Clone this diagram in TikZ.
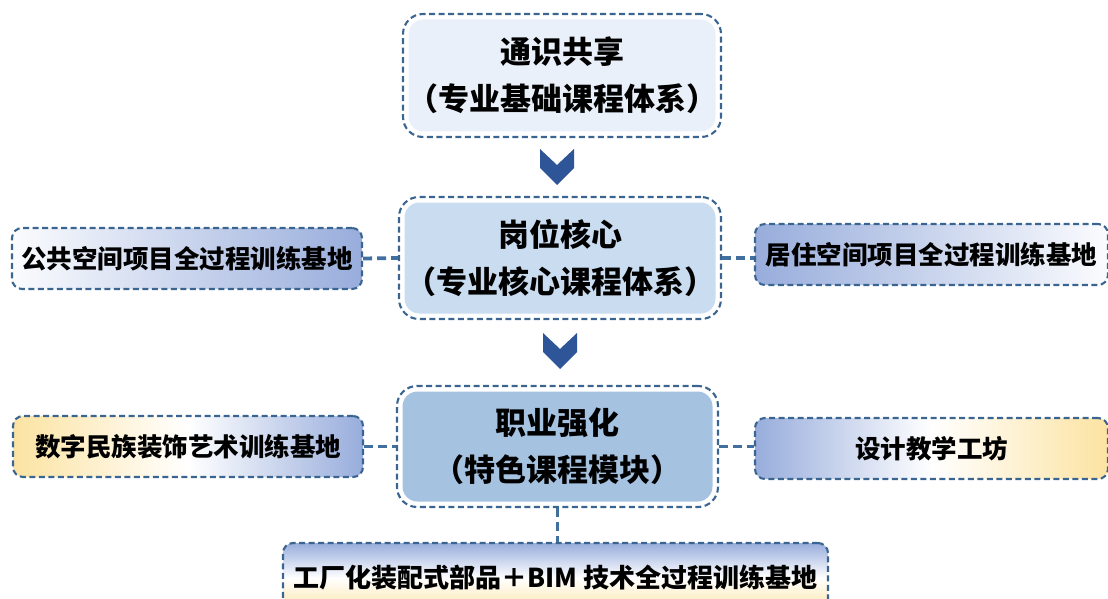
\documentclass[tikz,border=0pt]{standalone}
\usepackage{fontspec}
\setmainfont{Noto Sans CJK SC}
\usetikzlibrary{calc}
\definecolor{dashc}{HTML}{3B6591}
\definecolor{connc}{HTML}{41709E}
\definecolor{chevc}{HTML}{2E5597}
\definecolor{fillA}{HTML}{EAF0FA}
\definecolor{fillB}{HTML}{C9DCF0}
\definecolor{fillC}{HTML}{A5C2E1}
\definecolor{gblue}{HTML}{98ADDC}
\definecolor{gyellow}{HTML}{FCE3A2}
\tikzset{
  mainbox/.style={draw=dashc, line width=2.1pt, dash pattern=on 6pt off 3.5pt,
    rounded corners=20pt, inner sep=0pt, align=center, text=black,
    font=\fontsize{31}{47}\selectfont\bfseries,
    path picture={\fill[#1, rounded corners=15pt]
      ([shift={(5.5pt,5.5pt)}]path picture bounding box.south west) rectangle
      ([shift={(-5.5pt,-5.5pt)}]path picture bounding box.north east);}},
  sidebox/.style={draw=dashc, line width=2.1pt, dash pattern=on 6pt off 3.5pt,
    rounded corners=10pt, inner sep=0pt, align=center, text=black,
    minimum height=61pt, font=\fontsize{25.5}{30}\selectfont\bfseries},
  conn/.style={draw=connc, line width=3.8pt, dash pattern=on 9pt off 5pt},
  chev/.style={fill=chevc}
}
\begin{document}
\begin{tikzpicture}[x=1pt,y=-1pt]
\useasboundingbox (0,0) rectangle (1108,599);
\clip (0,0) rectangle (1108,599);

% main boxes
\node[mainbox=fillA, minimum width=318pt, minimum height=123pt] (top) at (562,75.5)
  {通识共享\\（专业基础课程体系）};
\node[mainbox=fillB, minimum width=322pt, minimum height=122pt] (mid) at (560,258)
  {岗位核心\\（专业核心课程体系）};
\node[mainbox=fillC, minimum width=321pt, minimum height=121pt] (low) at (557.5,446.5)
  {职业强化\\（特色课程模块）};

% side boxes
\node[sidebox, minimum width=350pt, left color=white!96!gblue, right color=gblue] (lb1) at (187,258.5)
  {公共空间项目全过程训练基地};
\node[sidebox, minimum width=353pt, left color=gblue, right color=white!96!gblue] (rb1) at (931.5,254.5)
  {居住空间项目全过程训练基地};
\node[sidebox, minimum width=350pt, left color=gyellow, right color=gblue, middle color=white] (lb2) at (188,446.5)
  {数字民族装饰艺术训练基地};
\node[sidebox, minimum width=353pt, left color=gblue, right color=gyellow, middle color=white] (rb2) at (931.5,448.5)
  {设计教学工坊};
\node[sidebox, minimum width=545pt, minimum height=70pt, top color=gblue, bottom color=gyellow, middle color=white,
  font=\fontsize{26}{30}\selectfont\bfseries] (bot) at (555.5,578)
  {工厂化装配式部品＋BIM 技术全过程训练基地};

% connectors
\draw[conn] (lb1.east) -- (mid.west);
\draw[conn] (mid.east) -- (rb1.west |- mid.east);
\draw[conn] (lb2.east) -- (low.west);
\draw[conn] (low.east) -- (rb2.west |- low.east);
\draw[conn, line width=3.2pt] (low.south) -- (low.south |- bot.north);

% chevrons
\coordinate (c1) at (557,167);
\coordinate (c2) at (560,351);
\fill[chev] (c1) ++(-17,-18) -- ++(17,16) -- ++(17,-16) -- ++(0,19) -- ++(-17,17) -- ++(-17,-17) -- cycle;
\fill[chev] (c2) ++(-17,-18) -- ++(17,16) -- ++(17,-16) -- ++(0,19) -- ++(-17,17) -- ++(-17,-17) -- cycle;
\end{tikzpicture}
\end{document}
